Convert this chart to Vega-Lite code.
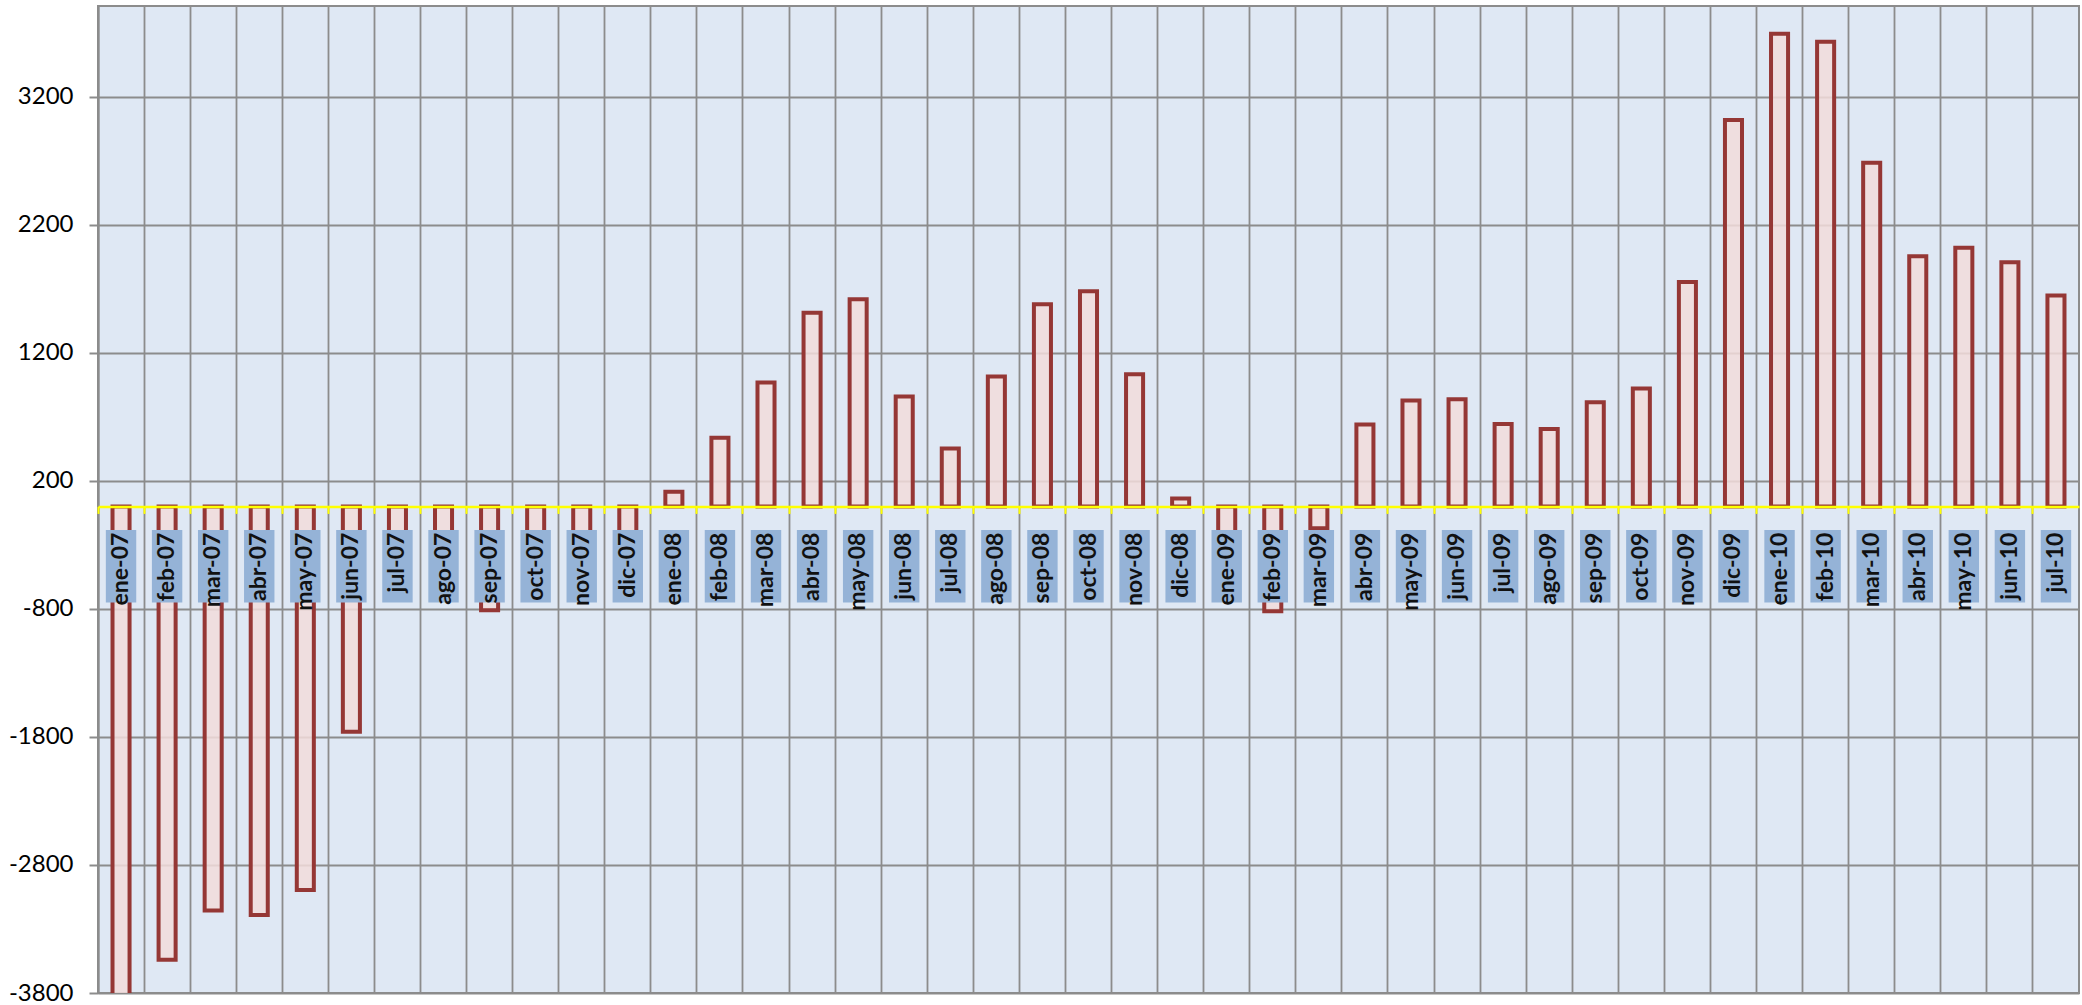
{
  "$schema": "https://vega.github.io/schema/vega-lite/v6.json",
  "width": 1981,
  "height": 987,
  "autosize": {"type": "none"},
  "padding": {"left": 98, "top": 6, "right": 3, "bottom": 12},
  "background": "white",
  "config": {"view": {"fill": "#dfe8f4", "stroke": "#8c8c8c", "strokeWidth": 2}},
  "data": {
    "values": [
      {"mes": "ene-07", "valor": -4000},
      {"mes": "feb-07", "valor": -3540},
      {"mes": "mar-07", "valor": -3156},
      {"mes": "abr-07", "valor": -3190},
      {"mes": "may-07", "valor": -2995},
      {"mes": "jun-07", "valor": -1760},
      {"mes": "jul-07", "valor": -420},
      {"mes": "ago-07", "valor": -380},
      {"mes": "sep-07", "valor": -810},
      {"mes": "oct-07", "valor": -350},
      {"mes": "nov-07", "valor": -400},
      {"mes": "dic-07", "valor": -300},
      {"mes": "ene-08", "valor": 115},
      {"mes": "feb-08", "valor": 537},
      {"mes": "mar-08", "valor": 968},
      {"mes": "abr-08", "valor": 1513},
      {"mes": "may-08", "valor": 1618},
      {"mes": "jun-08", "valor": 858},
      {"mes": "jul-08", "valor": 453},
      {"mes": "ago-08", "valor": 1015},
      {"mes": "sep-08", "valor": 1579},
      {"mes": "oct-08", "valor": 1680},
      {"mes": "nov-08", "valor": 1032},
      {"mes": "dic-08", "valor": 62},
      {"mes": "ene-09", "valor": -400},
      {"mes": "feb-09", "valor": -818},
      {"mes": "mar-09", "valor": -170},
      {"mes": "abr-09", "valor": 639},
      {"mes": "may-09", "valor": 827},
      {"mes": "jun-09", "valor": 837},
      {"mes": "jul-09", "valor": 644},
      {"mes": "ago-09", "valor": 605},
      {"mes": "sep-09", "valor": 814},
      {"mes": "oct-09", "valor": 921},
      {"mes": "nov-09", "valor": 1753},
      {"mes": "dic-09", "valor": 3018},
      {"mes": "ene-10", "valor": 3691},
      {"mes": "feb-10", "valor": 3629},
      {"mes": "mar-10", "valor": 2684},
      {"mes": "abr-10", "valor": 1953},
      {"mes": "may-10", "valor": 2020},
      {"mes": "jun-10", "valor": 1907},
      {"mes": "jul-10", "valor": 1647}
    ]
  },
  "encoding": {
    "x": {
      "field": "mes",
      "type": "ordinal",
      "sort": null,
      "scale": {"paddingInner": 0, "paddingOuter": 0},
      "axis": {
        "bandPosition": 0,
        "labels": false,
        "title": null,
        "domainColor": "#ffff00",
        "domainWidth": 2.5,
        "tickColor": "#ffff00",
        "tickWidth": 2,
        "tickSize": 7,
        "grid": true,
        "gridColor": "#8c8c8c",
        "gridWidth": 1.8,
        "offset": {"expr": "scale('y', 0) - height"},
        "zindex": 1
      }
    }
  },
  "layer": [
    {
      "mark": {"type": "bar", "width": {"band": 0.37}, "fill": "#f2dcdb", "fillOpacity": 0.85, "stroke": "#953735", "strokeWidth": 4, "clip": true},
      "encoding": {
        "y": {
          "field": "valor",
          "type": "quantitative",
          "scale": {"domain": [-3800, 3908], "nice": false, "zero": false},
          "axis": {
            "values": [-3800, -2800, -1800, -800, 200, 1200, 2200, 3200],
            "labelExpr": "'' + datum.value",
            "title": null,
            "grid": true,
            "gridColor": "#8c8c8c",
            "gridWidth": 1.8,
            "domainColor": "#8c8c8c",
            "domainWidth": 2,
            "tickColor": "#8c8c8c",
            "tickWidth": 2,
            "tickSize": 9,
            "labelFont": "Lato",
            "labelFontSize": 24,
            "labelColor": "#000000",
            "labelPadding": 16
          }
        }
      }
    },
    {
      "mark": {"type": "bar", "width": {"band": 0.66}, "fill": "#95b3d7"},
      "encoding": {"y": {"datum": -185}, "y2": {"datum": -750}}
    },
    {
      "mark": {"type": "text", "angle": 270, "align": "right", "baseline": "middle", "font": "Lato", "fontWeight": "bold", "fontSize": 23, "color": "#111111"},
      "encoding": {"y": {"datum": -205}, "text": {"field": "mes"}}
    }
  ]
}
